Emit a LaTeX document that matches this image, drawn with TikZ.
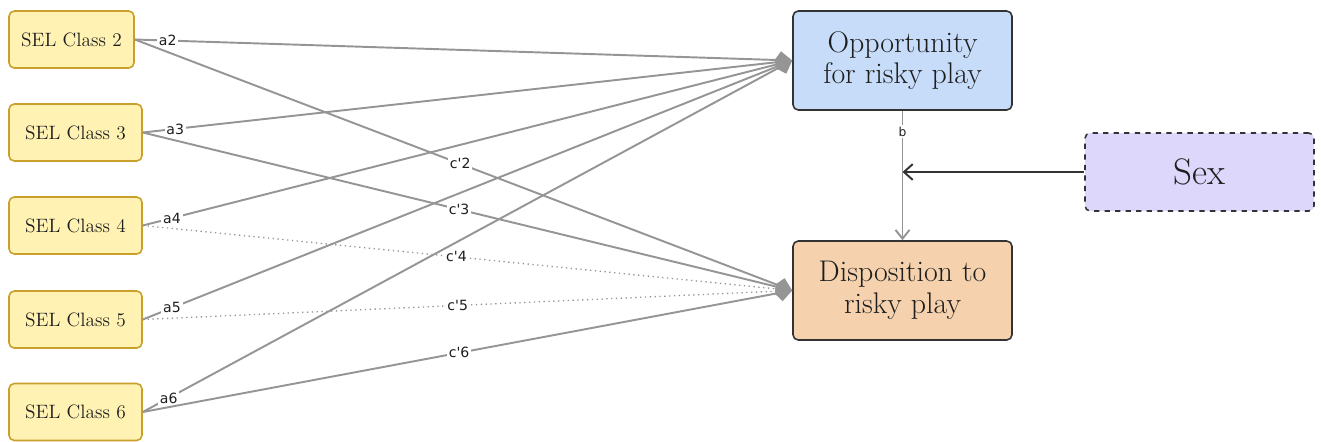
\documentclass[tikz,border=0pt]{standalone}
\usepackage{fontspec}
\newfontfamily\lblfont{DejaVu Sans}
\usetikzlibrary{arrows.meta}
\definecolor{selfill}{HTML}{FFF2B3}
\definecolor{seldraw}{HTML}{C9A02C}
\definecolor{oppfill}{HTML}{C6DCF9}
\definecolor{dispfill}{HTML}{F5D2AD}
\definecolor{sexfill}{HTML}{DCD7FB}
\definecolor{boxdraw}{HTML}{333333}
\definecolor{boxtext}{HTML}{1E1E1E}
\definecolor{linegray}{HTML}{959595}

\begin{document}
\begin{tikzpicture}[
    selbox/.style={draw=seldraw,fill=selfill,line width=0.9pt,rounded corners=3pt,minimum height=1.14cm,text=boxtext,font=\fontsize{11}{13}\selectfont},
    outbox/.style={draw=boxdraw,line width=0.9pt,rounded corners=3pt,minimum width=4.38cm,minimum height=1.98cm,align=center,text=boxtext,font=\fontsize{17}{18}\selectfont},
    edgeline/.style={draw=linegray,line width=1.1pt,-{Kite[length=10pt,width=10pt,inset=3.5pt]}},
    lbl/.style={fill=white,inner sep=1pt,text=boxtext,font=\lblfont\fontsize{8}{9}\selectfont}
]
    \useasboundingbox (0,0) rectangle (26.44,8.82);

    \node[selbox,minimum width=2.5cm] (c2) at (1.43,8.03) {SEL Class 2};
    \node[selbox,minimum width=2.66cm] (c3) at (1.51,6.17) {SEL Class 3};
    \node[selbox,minimum width=2.66cm] (c4) at (1.51,4.31) {SEL Class 4};
    \node[selbox,minimum width=2.66cm] (c5) at (1.51,2.43) {SEL Class 5};
    \node[selbox,minimum width=2.66cm] (c6) at (1.51,0.58) {SEL Class 6};

    \node[outbox,fill=oppfill] (opp) at (18.05,7.61) {Opportunity\\for risky play};
    \node[outbox,fill=dispfill] (disp) at (18.05,3.01) {Disposition to\\risky play};
    \node[draw=boxdraw,dashed,fill=sexfill,line width=0.9pt,rounded corners=3pt,minimum width=4.58cm,minimum height=1.56cm,text=boxtext,font=\fontsize{21}{24}\selectfont] (sex) at (23.99,5.38) {Sex};

    \draw[edgeline] (c2.east) -- node[lbl,pos=0.05] {a2} (opp.west);
    \draw[edgeline] (c3.east) -- node[lbl,pos=0.05] {a3} (opp.west);
    \draw[edgeline] (c4.east) -- node[lbl,pos=0.045] {a4} (opp.west);
    \draw[edgeline] (c5.east) -- node[lbl,pos=0.045] {a5} (opp.west);
    \draw[edgeline] (c6.east) -- node[lbl,pos=0.04] {a6} (opp.west);

    \draw[edgeline] (c2.east) -- node[lbl,pos=0.495] {c\textquotesingle 2} (disp.west);
    \draw[edgeline] (c3.east) -- node[lbl,pos=0.487] {c\textquotesingle 3} (disp.west);
    \draw[edgeline,line width=0.75pt,dotted] (c4.east) -- node[lbl,pos=0.483] {c\textquotesingle 4} (disp.west);
    \draw[edgeline,line width=0.75pt,dotted] (c5.east) -- node[lbl,pos=0.485] {c\textquotesingle 5} (disp.west);
    \draw[edgeline] (c6.east) -- node[lbl,pos=0.487] {c\textquotesingle 6} (disp.west);

    \draw[draw=linegray,line width=1.1pt,-{Straight Barb[length=5pt,width=8pt]}] (opp.south) -- node[lbl,pos=0.16,font=\lblfont\fontsize{7}{8}\selectfont] {b} (disp.north);
    \coordinate (mod) at (opp.south |- sex.west);
    \draw[draw=boxdraw,line width=1.1pt,-{Straight Barb[length=5pt,width=9pt]}] (sex.west) -- (mod);
\end{tikzpicture}
\end{document}
